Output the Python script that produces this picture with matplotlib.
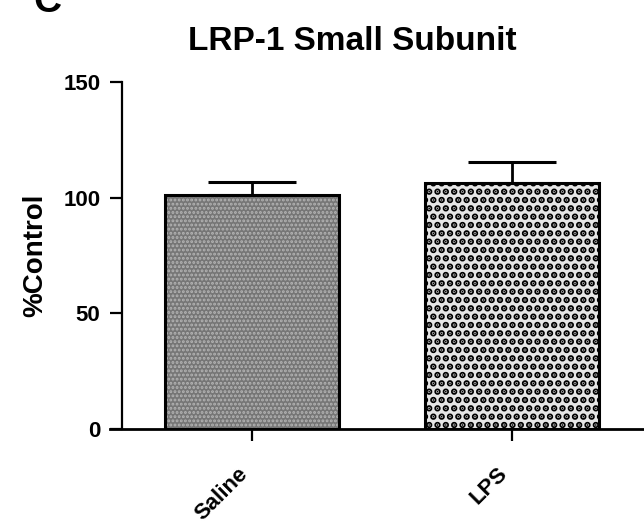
import matplotlib
matplotlib.use("Agg")
import matplotlib.pyplot as plt

categories = ["Saline", "LPS"]
means = [101.0, 106.2]
sems = [5.8, 9.2]
yticks = [0, 50, 100, 150]

plt.rcParams['font.family'] = ['Liberation Sans', 'DejaVu Sans']

fig = plt.figure(figsize=(6.44, 5.27), dpi=100)
ax = fig.add_axes([110/644, 1-429/527, (644-110)/644, (429-82)/527])

x = list(range(len(categories)))
facecolors = ["#767676", "#e6e6e6"]
hatchcolors = ["#b4b4b4", "#000000"]
hatches = ["....", ".."]
hatch_lws = [1.4, 3.3]

for i in x:
    plt.rcParams['hatch.linewidth'] = hatch_lws[i]
    bars = ax.bar(x[i], means[i], width=0.67, color=facecolors[i], edgecolor=hatchcolors[i],
                  hatch=hatches[i], linewidth=0, zorder=2)
    for b in bars:
        if hasattr(b, 'set_hatch_linewidth'):
            b.set_hatch_linewidth(hatch_lws[i])
ax.bar(x, means, width=0.67, color='none', edgecolor='black', linewidth=2.2, zorder=3)
ax.errorbar(x, means, yerr=[[0]*len(x), sems], fmt='none', ecolor='black',
            elinewidth=2.0, capsize=32, capthick=2.2, zorder=4)

ax.set_xlim(-0.546, 1.508)
ax.set_ylim(0, 150)
ax.spines['top'].set_visible(False)
ax.spines['right'].set_visible(False)
ax.spines['left'].set_position(('data', -0.5))
ax.spines['left'].set_bounds(0, 150)
ax.spines['left'].set_linewidth(1.6)
ax.spines['bottom'].set_linewidth(2.0)
ax.spines['bottom'].set_zorder(5)

ax.set_yticks(yticks)
ax.set_yticklabels([str(v) for v in yticks], fontsize=16, fontweight='bold')
ax.tick_params(axis='y', length=8.5, width=1.6, pad=7)
ax.set_xticks(x)
ax.set_xticklabels(categories, fontsize=16, fontweight='bold', rotation=45,
                   ha='right', va='top', rotation_mode='default')
ax.tick_params(axis='x', length=8.5, width=1.6, pad=16)

ax.set_ylabel("%Control", fontsize=20, fontweight='bold')
ax.yaxis.set_label_coords(-0.116, 0.5)
fig.text(352/644, 1-50/527, "LRP-1 Small Subunit", fontsize=24, fontweight='bold',
         ha='center', va='baseline')
fig.text(47/644, 1-12/527, "C", fontsize=28, fontweight='bold', ha='center', va='baseline')

fig.savefig("out.png", dpi=100)
